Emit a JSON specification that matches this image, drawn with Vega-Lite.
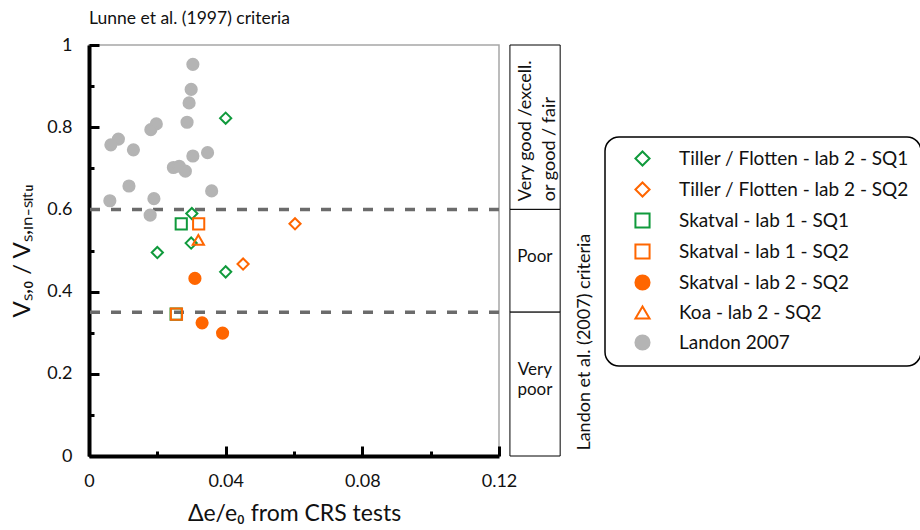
{
  "$schema": "https://vega.github.io/schema/vega-lite/v6.json",
  "width": 410,
  "height": 411,
  "autosize": "none",
  "padding": {"left": 89, "top": 45, "right": 421, "bottom": 74},
  "background": "white",
  "config": {
    "font": "Lato",
    "view": {"stroke": "#a6a6a6", "strokeWidth": 1.5},
    "legend": {"strokeWidth": 1.5}
  },
  "title": {
    "text": "Lunne et al. (1997) criteria",
    "anchor": "start",
    "frame": "group",
    "font": "Lato",
    "fontSize": 17.5,
    "fontWeight": "normal",
    "color": "#111111",
    "offset": 9
  },
  "datasets": {
    "points": [
      {"series": "Landon 2007", "de_e0": 0.0304, "vs_ratio": 0.953},
      {"series": "Landon 2007", "de_e0": 0.0299, "vs_ratio": 0.892},
      {"series": "Landon 2007", "de_e0": 0.0293, "vs_ratio": 0.859},
      {"series": "Landon 2007", "de_e0": 0.0287, "vs_ratio": 0.812},
      {"series": "Landon 2007", "de_e0": 0.0197, "vs_ratio": 0.808},
      {"series": "Landon 2007", "de_e0": 0.0181, "vs_ratio": 0.794},
      {"series": "Landon 2007", "de_e0": 0.0086, "vs_ratio": 0.771},
      {"series": "Landon 2007", "de_e0": 0.0064, "vs_ratio": 0.757},
      {"series": "Landon 2007", "de_e0": 0.0130, "vs_ratio": 0.745},
      {"series": "Landon 2007", "de_e0": 0.0347, "vs_ratio": 0.738},
      {"series": "Landon 2007", "de_e0": 0.0304, "vs_ratio": 0.730},
      {"series": "Landon 2007", "de_e0": 0.0247, "vs_ratio": 0.702},
      {"series": "Landon 2007", "de_e0": 0.0264, "vs_ratio": 0.705},
      {"series": "Landon 2007", "de_e0": 0.0282, "vs_ratio": 0.693},
      {"series": "Landon 2007", "de_e0": 0.0117, "vs_ratio": 0.657},
      {"series": "Landon 2007", "de_e0": 0.0359, "vs_ratio": 0.645},
      {"series": "Landon 2007", "de_e0": 0.0061, "vs_ratio": 0.621},
      {"series": "Landon 2007", "de_e0": 0.0190, "vs_ratio": 0.626},
      {"series": "Landon 2007", "de_e0": 0.0179, "vs_ratio": 0.586},
      {"series": "Tiller / Flotten - lab 2 - SQ1", "de_e0": 0.0400, "vs_ratio": 0.822},
      {"series": "Tiller / Flotten - lab 2 - SQ1", "de_e0": 0.0301, "vs_ratio": 0.590},
      {"series": "Tiller / Flotten - lab 2 - SQ1", "de_e0": 0.0200, "vs_ratio": 0.495},
      {"series": "Tiller / Flotten - lab 2 - SQ1", "de_e0": 0.0299, "vs_ratio": 0.518},
      {"series": "Tiller / Flotten - lab 2 - SQ1", "de_e0": 0.0400, "vs_ratio": 0.448},
      {"series": "Tiller / Flotten - lab 2 - SQ2", "de_e0": 0.0451, "vs_ratio": 0.467},
      {"series": "Tiller / Flotten - lab 2 - SQ2", "de_e0": 0.0603, "vs_ratio": 0.565},
      {"series": "Skatval - lab 1 - SQ1", "de_e0": 0.0270, "vs_ratio": 0.565},
      {"series": "Skatval - lab 1 - SQ1", "de_e0": 0.0255, "vs_ratio": 0.345},
      {"series": "Skatval - lab 1 - SQ2", "de_e0": 0.0321, "vs_ratio": 0.565},
      {"series": "Skatval - lab 1 - SQ2", "de_e0": 0.0256, "vs_ratio": 0.345},
      {"series": "Skatval - lab 2 - SQ2", "de_e0": 0.0310, "vs_ratio": 0.432},
      {"series": "Skatval - lab 2 - SQ2", "de_e0": 0.0331, "vs_ratio": 0.324},
      {"series": "Skatval - lab 2 - SQ2", "de_e0": 0.0391, "vs_ratio": 0.299},
      {"series": "Koa - lab 2 - SQ2", "de_e0": 0.0320, "vs_ratio": 0.526}
    ],
    "thresholds": [{"limit": 0.6}, {"limit": 0.35}],
    "classes": [
      {"cls": "Very good / excellent or good / fair", "top": 1, "bottom": 0.6},
      {"cls": "Poor", "top": 0.6, "bottom": 0.35},
      {"cls": "Very poor", "top": 0.35, "bottom": 0}
    ],
    "labels": [
      {"lines": "Very good /excell.", "pos": 0.62, "kind": "rotated1"},
      {"lines": "or good / fair", "pos": 0.62, "kind": "rotated2"},
      {"lines": ["Poor"], "pos": 0.485, "kind": "flat"},
      {"lines": ["Very", "poor"], "pos": 0.21, "kind": "flat"}
    ],
    "side": [{"caption": "Landon et al. (2007) criteria"}]
  },
  "layer": [
    {
      "data": {"name": "classes"},
      "mark": {"type": "rect", "fill": "white", "stroke": "black", "strokeWidth": 1},
      "encoding": {
        "x": {"datum": 0.1232, "type": "quantitative"},
        "x2": {"datum": 0.1379},
        "y": {"field": "top", "type": "quantitative"},
        "y2": {"field": "bottom"}
      }
    },
    {
      "data": {"name": "thresholds"},
      "mark": {"type": "rule", "stroke": "#6b6b6b", "strokeWidth": 3.5, "strokeDash": [10, 11]},
      "encoding": {
        "y": {"field": "limit", "type": "quantitative"}
      }
    },
    {
      "data": {"name": "points"},
      "mark": {"type": "point", "strokeWidth": 2, "opacity": 1, "size": 125},
      "encoding": {
        "x": {
          "field": "de_e0",
          "type": "quantitative",
          "scale": {"domain": [0, 0.12], "nice": false, "zero": false},
          "axis": {
            "title": "Δe/e₀ from CRS tests",
            "titleFont": "Lato",
            "titleFontSize": 23,
            "titleFontWeight": "normal",
            "titleColor": "#111111",
            "titlePadding": 7,
            "values": [0, 0.02, 0.04, 0.06, 0.08, 0.1, 0.12],
            "format": "~g",
            "labelExpr": "round(datum.value*50) % 2 === 0 ? datum.label : ''",
            "labelFlush": false,
            "labelOverlap": false,
            "labelFont": "Lato",
            "labelFontSize": 18,
            "labelColor": "#111111",
            "labelPadding": 26,
            "tickSize": {"condition": {"test": "round(datum.value*50) % 2 === 0", "value": -10}, "value": -5},
            "tickWidth": 3,
            "tickColor": "black",
            "domainColor": "black",
            "domainWidth": 4,
            "grid": false
          }
        },
        "y": {
          "field": "vs_ratio",
          "type": "quantitative",
          "scale": {"domain": [0, 1], "nice": false},
          "axis": {
            "title": "Vₛ,₀ / Vₛ,ᵢₙ₋ₛᵢₜᵤ",
            "titleFont": "Lato",
            "titleFontSize": 24,
            "titleFontWeight": "normal",
            "titleColor": "#111111",
            "titlePadding": 12,
            "values": [0, 0.1, 0.2, 0.3, 0.4, 0.5, 0.6, 0.7, 0.8, 0.9, 1],
            "format": "~g",
            "labelExpr": "round(datum.value*10) % 2 === 0 ? datum.label : ''",
            "labelFlush": false,
            "labelOverlap": false,
            "labelFont": "Lato",
            "labelFontSize": 18,
            "labelColor": "#111111",
            "labelPadding": 27,
            "tickSize": {"condition": {"test": "round(datum.value*10) % 2 === 0", "value": -10}, "value": -5},
            "tickWidth": 3,
            "tickColor": "black",
            "domainColor": "black",
            "domainWidth": 4,
            "grid": false
          }
        },
        "stroke": {
          "field": "series",
          "type": "nominal",
          "title": null,
          "scale": {
            "domain": ["Tiller / Flotten - lab 2 - SQ1", "Tiller / Flotten - lab 2 - SQ2", "Skatval - lab 1 - SQ1", "Skatval - lab 1 - SQ2", "Skatval - lab 2 - SQ2", "Koa - lab 2 - SQ2", "Landon 2007"],
            "range": ["#109a3c", "#ff6600", "#109a3c", "#ff6600", "#ff6600", "#ff6600", "#b4b4b4"]
          },
          "legend": {
            "orient": "none",
            "legendX": 516,
            "legendY": 92,
            "strokeColor": "black",
            "cornerRadius": 14,
            "padding": 12,
            "fillColor": "white",
            "labelFont": "Lato",
            "labelFontSize": 19,
            "labelColor": "#111111",
            "labelLimit": 400,
            "symbolSize": 200,
            "symbolStrokeWidth": 2,
            "rowPadding": 8,
            "labelOffset": 27,
            "symbolOffset": 16
          }
        },
        "fill": {
          "field": "series",
          "type": "nominal",
          "title": null,
          "scale": {
            "domain": ["Tiller / Flotten - lab 2 - SQ1", "Tiller / Flotten - lab 2 - SQ2", "Skatval - lab 1 - SQ1", "Skatval - lab 1 - SQ2", "Skatval - lab 2 - SQ2", "Koa - lab 2 - SQ2", "Landon 2007"],
            "range": ["transparent", "transparent", "transparent", "transparent", "#ff6600", "transparent", "#b4b4b4"]
          }
        },
        "shape": {
          "field": "series",
          "type": "nominal",
          "title": null,
          "scale": {
            "domain": ["Tiller / Flotten - lab 2 - SQ1", "Tiller / Flotten - lab 2 - SQ2", "Skatval - lab 1 - SQ1", "Skatval - lab 1 - SQ2", "Skatval - lab 2 - SQ2", "Koa - lab 2 - SQ2", "Landon 2007"],
            "range": ["diamond", "diamond", "square", "square", "circle", "triangle-up", "circle"]
          }
        }
      }
    },
    {
      "data": {"name": "labels"},
      "transform": [{"filter": "datum.kind === 'rotated1'"}],
      "mark": {"type": "text", "angle": 270, "align": "left", "baseline": "middle", "font": "Lato", "fontSize": 18, "color": "#111111"},
      "encoding": {
        "x": {"datum": 0.1278, "type": "quantitative"},
        "y": {"field": "pos", "type": "quantitative"},
        "text": {"field": "lines"}
      }
    },
    {
      "data": {"name": "labels"},
      "transform": [{"filter": "datum.kind === 'rotated2'"}],
      "mark": {"type": "text", "angle": 270, "align": "left", "baseline": "middle", "font": "Lato", "fontSize": 18, "color": "#111111"},
      "encoding": {
        "x": {"datum": 0.1349, "type": "quantitative"},
        "y": {"field": "pos", "type": "quantitative"},
        "text": {"field": "lines"}
      }
    },
    {
      "data": {"name": "labels"},
      "transform": [{"filter": "datum.kind === 'flat'"}],
      "mark": {"type": "text", "align": "center", "baseline": "middle", "font": "Lato", "fontSize": 17, "lineHeight": 20, "color": "#111111"},
      "encoding": {
        "x": {"datum": 0.1305, "type": "quantitative"},
        "y": {"field": "pos", "type": "quantitative"},
        "text": {"field": "lines"}
      }
    },
    {
      "data": {"name": "side"},
      "mark": {"type": "text", "angle": 270, "align": "center", "baseline": "middle", "font": "Lato", "fontSize": 18, "color": "#111111"},
      "encoding": {
        "x": {"datum": 0.1452, "type": "quantitative"},
        "y": {"datum": 0.277, "type": "quantitative"},
        "text": {"field": "caption"}
      }
    }
  ]
}
